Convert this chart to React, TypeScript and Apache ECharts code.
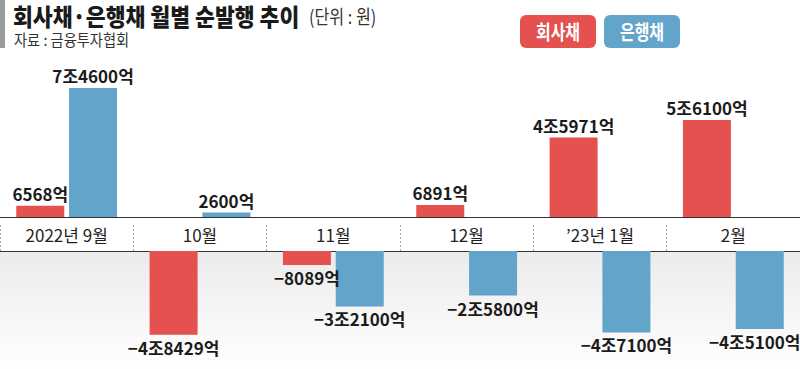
import React, { useEffect, useRef } from "react";
import * as echarts from "echarts";

const categories = ["2022년 9월", "10월", "11월", "12월", "\u201923년 1월", "2월"];
const corporateBonds = [6568, -48429, -8089, 6891, 45971, 56100]; // 억원
const bankBonds = [74600, 2600, -32100, -25800, -47100, -45100]; // 억원
const seriesNames = ["회사채", "은행채"];

const RED = "#E5514F";
const BLUE = "#63A4CB";
const FONT = "'Noto Sans CJK KR', 'Noto Sans', sans-serif";

function fmt(v: number): string {
  const neg = v < 0;
  const a = Math.abs(v);
  const jo = Math.floor(a / 10000);
  const rest = a % 10000;
  let s = "";
  if (jo > 0) s += jo + "조";
  if (rest > 0 || jo === 0) s += rest + "억";
  return (neg ? "\u2212" : "") + s;
}

const pos = (arr: number[]) => arr.map((v) => (v > 0 ? v : "-"));
const neg = (arr: number[]) =>
  arr.map((v, i) =>
    v < 0
      ? i === arr.length - 1
        ? { value: v, label: { offset: [-5, 0] } }
        : v
      : "-"
  );

export default function App() {
  const ref = useRef<HTMLDivElement>(null);
  useEffect(() => {
    if (!ref.current) return;
    const chart = echarts.init(ref.current, undefined, { renderer: "svg" });
    const PX = 0.001728; // px per 억
    const zeroTop = 217;
    const bandBottom = 251;
    const topMax = 90000;
    const topH = topMax * PX;
    const botMin = -60000;
    const botH = -botMin * PX;

    const label = (position: "top" | "bottom") => ({
      show: true,
      position,
      distance: 4,
      fontSize: 17,
      fontWeight: "bold" as const,
      color: "#1b1b1b",
      fontFamily: FONT,
      formatter: (p: any) => fmt(p.value as number),
    });

    const barCommon = {
      type: "bar" as const,
      barWidth: 48,
      barGap: "10%",
    };

    chart.setOption({
      animation: false,
      backgroundColor: "#ffffff",
      textStyle: { fontFamily: FONT },
      grid: [
        { left: 0, right: 0, top: zeroTop - topH, height: topH },
        { left: 0, right: 0, top: bandBottom, height: botH },
      ],
      xAxis: [
        {
          type: "category",
          gridIndex: 0,
          data: categories,
          position: "bottom",
          axisLine: { show: true, lineStyle: { color: "#333333", width: 1.2 } },
          axisTick: { show: false },
          axisLabel: {
            show: true,
            margin: 17,
            verticalAlign: "middle",
            fontSize: 17,
            color: "#1f1f1f",
            fontFamily: FONT,
          },
          splitLine: { show: false },
        },
        {
          type: "category",
          gridIndex: 1,
          data: categories,
          position: "top",
          axisLine: { show: true, lineStyle: { color: "#333333", width: 1.2 } },
          axisTick: {
            show: true,
            alignWithLabel: false,
            length: 28,
            lineStyle: { color: "#aaaaaa", type: [2, 2], width: 1 },
          },
          axisLabel: { show: false },
          splitLine: { show: false },
        },
      ],
      yAxis: [
        { type: "value", gridIndex: 0, min: 0, max: topMax, show: false, splitLine: { show: false } },
        { type: "value", gridIndex: 1, min: botMin, max: 0, show: false, splitLine: { show: false } },
      ],
      graphic: [
        {
          type: "rect",
          z: -10,
          shape: { x: 0, y: bandBottom, width: 800, height: 369 - bandBottom },
          style: {
            fill: new echarts.graphic.LinearGradient(0, 0, 0, 1, [
              { offset: 0, color: "#ebebeb" },
              { offset: 1, color: "#ffffff" },
            ]),
          },
          silent: true,
        },
        {
          type: "rect",
          shape: { x: 0, y: 0, width: 5, height: 48 },
          style: { fill: "#9b9b9b" },
        },
        {
          type: "text",
          x: 13,
          y: 4,
          scaleX: 0.9,
          style: {
            text: "회사채·은행채 월별 순발행 추이",
            fontSize: 24,
            fontWeight: 900,
            fill: "#1a1a1a",
            fontFamily: FONT,
            textVerticalAlign: "top",
          } as any,
        },
        {
          type: "text",
          x: 309,
          y: 6,
          scaleX: 0.85,
          style: {
            text: "(단위 : 원)",
            fontSize: 19,
            fill: "#333333",
            fontFamily: FONT,
            textVerticalAlign: "top",
          } as any,
        },
        {
          type: "text",
          x: 14,
          y: 31,
          scaleX: 0.92,
          style: {
            text: "자료 : 금융투자협회",
            fontSize: 15.5,
            fill: "#333333",
            fontFamily: FONT,
            textVerticalAlign: "top",
          } as any,
        },
        {
          type: "rect",
          shape: { x: 520, y: 15, width: 76, height: 33, r: 6 },
          style: { fill: RED },
        },
        {
          type: "text",
          x: 558,
          y: 31.5,
          scaleX: 0.8,
          style: {
            text: seriesNames[0],
            fontSize: 20,
            fontWeight: "bold",
            fill: "#ffffff",
            fontFamily: FONT,
            textAlign: "center",
            textVerticalAlign: "middle",
          } as any,
        },
        {
          type: "rect",
          shape: { x: 604, y: 15, width: 76, height: 33, r: 6 },
          style: { fill: BLUE },
        },
        {
          type: "text",
          x: 642,
          y: 31.5,
          scaleX: 0.8,
          style: {
            text: seriesNames[1],
            fontSize: 20,
            fontWeight: "bold",
            fill: "#ffffff",
            fontFamily: FONT,
            textAlign: "center",
            textVerticalAlign: "middle",
          } as any,
        },
      ],
      series: [
        {
          ...barCommon,
          name: seriesNames[0],
          xAxisIndex: 0,
          yAxisIndex: 0,
          data: pos(corporateBonds),
          itemStyle: { color: RED },
          label: label("top"),
        },
        {
          ...barCommon,
          name: seriesNames[1],
          xAxisIndex: 0,
          yAxisIndex: 0,
          data: pos(bankBonds),
          itemStyle: { color: BLUE },
          label: label("top"),
        },
        {
          ...barCommon,
          name: seriesNames[0],
          xAxisIndex: 1,
          yAxisIndex: 1,
          data: neg(corporateBonds),
          itemStyle: { color: RED },
          label: label("bottom"),
        },
        {
          ...barCommon,
          name: seriesNames[1],
          xAxisIndex: 1,
          yAxisIndex: 1,
          data: neg(bankBonds),
          itemStyle: { color: BLUE },
          label: label("bottom"),
        },
      ],
    });
    return () => chart.dispose();
  }, []);

  return (
    <div
      ref={ref}
      style={{ position: "fixed", left: 0, top: 0, width: 800, height: 369 }}
    />
  );
}
